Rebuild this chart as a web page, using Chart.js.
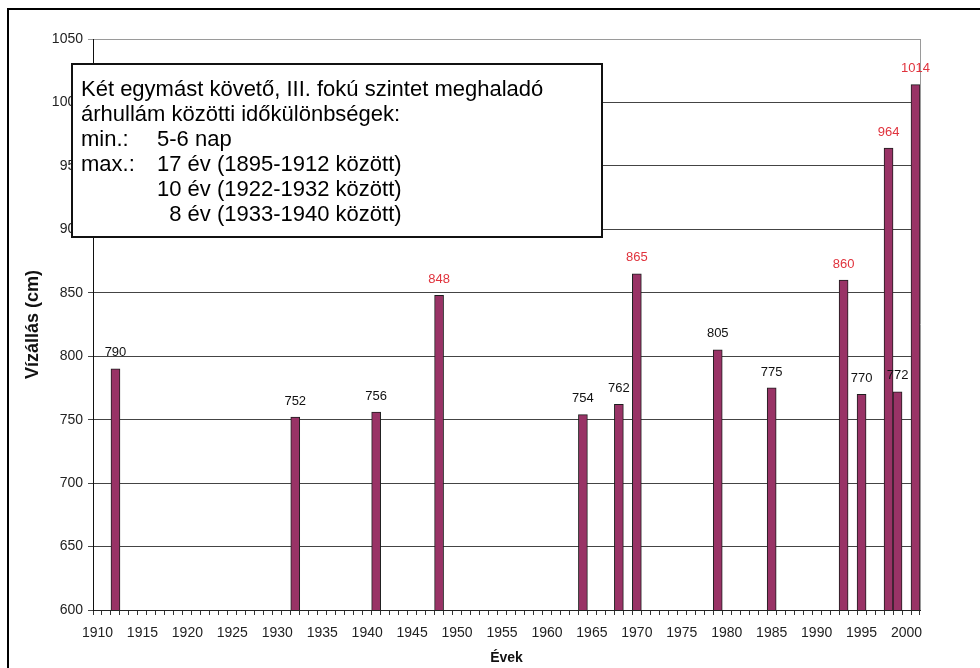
<!DOCTYPE html>
<html lang="hu">
<head>
<meta charset="utf-8">
<title>Árhullámok – tetőző vízállások</title>
<script src="https://cdn.jsdelivr.net/npm/chart.js@4.4.1/dist/chart.umd.min.js"></script>
<style>
  html, body { margin: 0; padding: 0; background: #fff; }
  #wrap { width: 980px; height: 668px; }
</style>
</head>
<body>
<div id="wrap"><canvas id="arhullam" width="980" height="668"></canvas></div>
<script>
// Tetőző vízállások (cm) – évek és értékek
const evek = [1912, 1932, 1941, 1948, 1964, 1968, 1970, 1979, 1985, 1993, 1995, 1998, 1999, 2001];
const vizallas = [790, 752, 756, 848, 754, 762, 865, 805, 775, 860, 770, 964, 772, 1014];
// piros felirattal jelölt évek
const kiemeltEvek = [1948, 1970, 1993, 1998, 2001];

// Tengelyek
const elsoEv = 1910;
const utolsoEv = 2001;
const xCimkek = [1910, 1915, 1920, 1925, 1930, 1935, 1940, 1945, 1950, 1955,
                 1960, 1965, 1970, 1975, 1980, 1985, 1990, 1995, 2000];
const yCimkek = [600, 650, 700, 750, 800, 850, 900, 950, 1000, 1050];

// Szövegdoboz sorai
const dobozSorok = [
    ['Két egymást követő, III. fokú szintet meghaladó', ''],
    ['árhullám közötti időkülönbségek:', ''],
    ['min.:', '5-6 nap'],
    ['max.:', '17 év (1895-1912 között)'],
    ['', '10 év (1922-1932 között)'],
    ['', '  8 év (1933-1940 között)']
];

const FONT = '"Liberation Sans", Arial, sans-serif';

// kategóriák: minden év egy oszlophely
const kategoriak = [];
for (let ev = elsoEv; ev <= utolsoEv; ev++) kategoriak.push(ev);
const adatok = kategoriak.map(ev => {
    const i = evek.indexOf(ev);
    return i >= 0 ? vizallas[i] : null;
});

/**
 * Értékfeliratok az oszlopok fölött
 */
const feliratPlugin = {
    id: 'feliratok',
    afterDatasetsDraw(chart) {
        const ctx = chart.ctx;
        const meta = chart.getDatasetMeta(0);
        ctx.save();
        ctx.font = '13px ' + FONT;
        ctx.textAlign = 'center';
        ctx.textBaseline = 'middle';
        meta.data.forEach((bar, i) => {
            const v = adatok[i];
            if (v === null) return;
            const ev = kategoriak[i];
            ctx.fillStyle = kiemeltEvek.includes(ev) ? '#e0333d' : '#111';
            ctx.fillText(String(v), bar.x, bar.y - 16);
        });
        ctx.restore();
    }
};

/**
 * Keret, szürke plot-szél és a szövegdoboz
 */
const dobozPlugin = {
    id: 'doboz',
    beforeDatasetsDraw(chart) {
        const {ctx, chartArea} = chart;
        ctx.save();
        ctx.strokeStyle = '#9a9a9a';
        ctx.lineWidth = 1;
        ctx.beginPath();
        ctx.moveTo(chartArea.right + 0.5, chartArea.top);
        ctx.lineTo(chartArea.right + 0.5, chartArea.bottom);
        ctx.stroke();
        ctx.restore();
    },
    afterDraw(chart) {
        const ctx = chart.ctx;
        ctx.save();

        // külső keret (csak bal és felső él látszik)
        ctx.strokeStyle = '#000';
        ctx.lineWidth = 2;
        ctx.beginPath();
        ctx.moveTo(8, 700);
        ctx.lineTo(8, 9);
        ctx.lineTo(990, 9);
        ctx.stroke();

        // szövegdoboz
        ctx.fillStyle = '#fff';
        ctx.fillRect(72, 64, 530, 173);
        ctx.lineWidth = 2;
        ctx.strokeStyle = '#111';
        ctx.strokeRect(72, 64, 530, 173);

        ctx.fillStyle = '#000';
        ctx.font = '22px ' + FONT;
        ctx.textBaseline = 'alphabetic';
        ctx.textAlign = 'left';
        dobozSorok.forEach((sor, i) => {
            const y = 96 + i * 25;
            if (sor[0]) ctx.fillText(sor[0], 81, y);
            if (sor[1]) ctx.fillText(sor[1], 157, y);
        });
        ctx.restore();
    }
};

const chart = new Chart(document.getElementById('arhullam'), {
    type: 'bar',
    data: {
        labels: kategoriak,
        datasets: [{
            data: adatok,
            backgroundColor: '#993366',
            borderColor: '#1e1e1e',
            borderWidth: 1,
            borderSkipped: 'bottom',
            barPercentage: 1.0,
            categoryPercentage: 1.0
        }]
    },
    options: {
        responsive: false,
        animation: false,
        devicePixelRatio: 1,
        layout: {
            padding: { left: 0, right: 60, top: 39, bottom: 0 }
        },
        plugins: {
            legend: { display: false },
            tooltip: { enabled: false }
        },
        scales: {
            x: {
                grid: {
                    display: true,
                    offset: true,
                    drawOnChartArea: false,
                    drawTicks: true,
                    tickLength: 5,
                    color: '#333'
                },
                border: { color: '#222', width: 1 },
                ticks: {
                    autoSkip: false,
                    maxRotation: 0,
                    minRotation: 0,
                    padding: 10,
                    color: '#222',
                    font: { family: FONT, size: 14 },
                    callback: function(val, i) {
                        const ev = kategoriak[i];
                        return xCimkek.includes(ev) ? String(ev) : '';
                    }
                },
                title: {
                    display: true,
                    text: 'Évek',
                    color: '#111',
                    font: { family: FONT, size: 14, weight: 'bold' },
                    padding: { top: 0, bottom: 1 }
                },
                afterFit(scale) { scale.height = 58; }
            },
            y: {
                min: 600,
                max: 1050,
                grid: {
                    color: ctx => (ctx.tick && ctx.tick.value === 1050) ? '#9a9a9a' : '#444',
                    lineWidth: 1,
                    drawTicks: true,
                    tickLength: 5
                },
                border: { color: '#111', width: 1 },
                ticks: {
                    padding: 5,
                    color: '#222',
                    font: { family: FONT, size: 14 },
                    callback: v => String(v)
                },
                afterBuildTicks(scale) {
                    scale.ticks = yCimkek.map(v => ({ value: v }));
                },
                title: {
                    display: true,
                    text: 'Vízállás (cm)',
                    color: '#111',
                    font: { family: FONT, size: 18, weight: 'bold' },
                    padding: { top: 22, bottom: 0 }
                },
                afterFit(scale) { scale.width = 93; }
            }
        }
    },
    plugins: [feliratPlugin, dobozPlugin]
});
</script>
</body>
</html>
